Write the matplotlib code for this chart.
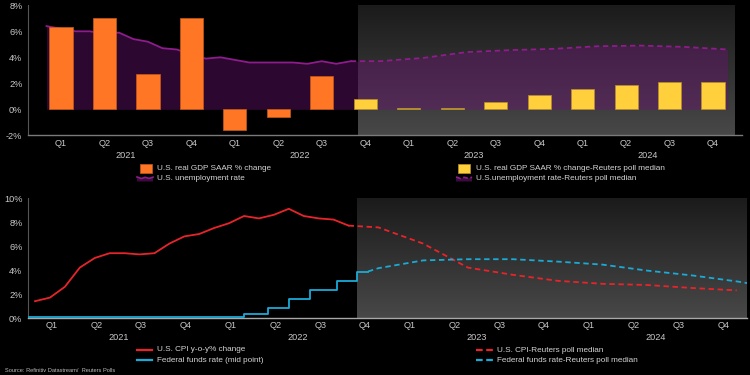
import numpy as np
import matplotlib
matplotlib.use('Agg')
import matplotlib.pyplot as plt
from matplotlib.patches import Rectangle, Polygon
from matplotlib.lines import Line2D
import matplotlib.transforms as mtrans
from matplotlib.colors import LinearSegmentedColormap

plt.rcParams['font.family'] = ['Liberation Sans', 'DejaVu Sans']

# ---------------- data ----------------
quarter_labels = ['Q1', 'Q2', 'Q3', 'Q4'] * 4
year_labels = ['2021', '2022', '2023', '2024']

gdp_actual = [6.3, 7.0, 2.7, 7.0, -1.6, -0.6, 2.6]
gdp_poll = [0.8, 0.1, 0.1, 0.6, 1.1, 1.6, 1.9, 2.1, 2.1]

unemp_actual = [6.4, 6.2, 6.0, 6.0, 5.8, 5.9, 5.4, 5.2, 4.7, 4.6, 4.2, 3.9,
                4.0, 3.8, 3.6, 3.6, 3.6, 3.6, 3.5, 3.7, 3.5, 3.7]
unemp_poll_month = [21, 23, 26, 29, 32, 35, 38, 41, 44, 47]
unemp_poll = [3.7, 3.7, 3.95, 4.4, 4.55, 4.65, 4.85, 4.9, 4.8, 4.6]

cpi_actual = [1.4, 1.7, 2.6, 4.2, 5.0, 5.4, 5.4, 5.3, 5.4, 6.2, 6.8, 7.0,
              7.5, 7.9, 8.5, 8.3, 8.6, 9.1, 8.5, 8.3, 8.2, 7.7]
cpi_poll_month = [21, 23, 26, 29, 32, 35, 38, 41, 44, 47]
cpi_poll = [7.7, 7.55, 6.2, 4.2, 3.6, 3.1, 2.85, 2.75, 2.5, 2.3]

fed_month = [-1.0, 14.0, 15.6, 17.0, 18.4, 20.2, 21.6, 22.3]
fed_actual = [0.125, 0.375, 0.875, 1.625, 2.375, 3.125, 3.875, 3.875]
fed_poll_month = [22.3, 23, 26, 29, 32, 35, 38, 41, 44, 47, 50]
fed_poll = [3.875, 4.15, 4.8, 4.9, 4.9, 4.7, 4.45, 3.95, 3.55, 3.05, 2.45]

# ---------------- style ----------------
ORANGE = '#ff7624'
ORANGE_E = '#c85a18'
YELLOW = '#ffd03c'
YELLOW_E = '#b8902a'
PURPLE = '#8e1c8c'
FILL = (0.42, 0.07, 0.45)
RED = '#e8242a'
CYAN = '#1aaad6'
TXT = '#d4d4d4'
TICK = '#c8c8c8'
TFS = 6.6
LFS = 5.85

W, H = 750, 375
fig = plt.figure(figsize=(7.5, 3.75), dpi=100, facecolor='black')

def fx(px):
    return px / W

def fy(py):
    return 1 - py / H

shade_cmap = LinearSegmentedColormap.from_list('sh', ['#1b1b1b', '#484848'])
grad = np.linspace(0, 1, 256).reshape(-1, 1)

def style_axes(ax, spine_col):
    ax.set_facecolor('black')
    for s in ['top', 'right']:
        ax.spines[s].set_visible(False)
    ax.spines['left'].set_color('#555555')
    ax.spines['bottom'].set_color(spine_col)
    ax.spines['left'].set_linewidth(0.8)
    ax.spines['bottom'].set_linewidth(1.0)
    ax.tick_params(axis='y', length=0, pad=4, labelsize=TFS, labelcolor=TICK)
    ax.tick_params(axis='x', length=0, labelbottom=False)

# ---------------- top panel ----------------
ax1 = fig.add_axes([fx(28), fy(135.3), fx(742) - fx(28), (135.3 - 5.3) / H])
style_axes(ax1, '#7a7a7a')
m1 = 14.49
x1_left = (28 - 46.5) / m1
x1_right = (742 - 46.5) / m1
ax1.set_xlim(x1_left, x1_right)
ax1.set_ylim(-2, 8)
ax1.set_yticks([-2, 0, 2, 4, 6, 8])
ax1.set_yticklabels(['-2%', '0%', '2%', '4%', '6%', '8%'])
ax1.imshow(grad, cmap=shade_cmap, aspect='auto', origin='upper',
           extent=[21.5, (735 - 46.5) / m1, -2, 8], zorder=0)

um_x = list(range(len(unemp_actual))) + unemp_poll_month[1:]
um_y = unemp_actual + unemp_poll[1:]
ax1.fill_between(um_x, 0, um_y, color=FILL, alpha=0.42, lw=0, zorder=1)
ax1.plot(range(len(unemp_actual)), unemp_actual, color=PURPLE, lw=1.3, zorder=2)
ax1.plot(unemp_poll_month, unemp_poll, color=PURPLE, lw=1.3, ls=(0, (3, 2)), zorder=2)

qx = [3 * i + 1 for i in range(16)]
ax1.bar(qx[:len(gdp_actual)], gdp_actual, width=1.6, color=ORANGE,
        edgecolor=ORANGE_E, linewidth=0.5, zorder=3)
ax1.bar(qx[len(gdp_actual):], gdp_poll, width=1.6, color=YELLOW,
        edgecolor=YELLOW_E, linewidth=0.5, zorder=3)

tr1 = mtrans.blended_transform_factory(ax1.transData, fig.transFigure)
for x, q in zip(qx, quarter_labels):
    ax1.text(x, fy(144), q, transform=tr1, ha='center', va='center',
             fontsize=TFS, color=TICK, clip_on=False)
for i, y in enumerate(year_labels):
    ax1.text(12 * i + 5.5, fy(155.5), y, transform=tr1, ha='center',
             va='center', fontsize=TFS, color=TICK, clip_on=False)

# ---------------- bottom panel ----------------
ax2 = fig.add_axes([fx(28), fy(318), fx(747) - fx(28), (318 - 198) / H])
style_axes(ax2, '#a8a8a8')
m2 = 14.93
x2_left = (28 - 35) / m2
x2_right = (747 - 35) / m2
ax2.set_xlim(x2_left, x2_right)
ax2.set_ylim(0, 10)
ax2.set_yticks([0, 2, 4, 6, 8, 10])
ax2.set_yticklabels(['0%', '2%', '4%', '6%', '8%', '10%'])
ax2.imshow(grad, cmap=shade_cmap, aspect='auto', origin='upper',
           extent=[21.6, x2_right, 0, 10], zorder=0)

ax2.plot(range(len(cpi_actual)), cpi_actual, color=RED, lw=1.3, zorder=3)
ax2.plot(cpi_poll_month, cpi_poll, color=RED, lw=1.3, ls=(0, (3, 2)), zorder=3)
ax2.step(fed_month, fed_actual, where='post', color=CYAN, lw=1.3, zorder=3)
ax2.plot(fed_poll_month, fed_poll, color=CYAN, lw=1.3, ls=(0, (3, 2)), zorder=3)

tr2 = mtrans.blended_transform_factory(ax2.transData, fig.transFigure)
qx2 = [3 * i + 1.1 for i in range(16)]
for x, q in zip(qx2, quarter_labels):
    ax2.text(x, fy(325), q, transform=tr2, ha='center', va='center',
             fontsize=TFS, color=TICK, clip_on=False)
for i, y in enumerate(year_labels):
    ax2.text(12 * i + 5.6, fy(338), y, transform=tr2, ha='center',
             va='center', fontsize=TFS, color=TICK, clip_on=False)

# ---------------- legends ----------------
def leg_text(px, py, s):
    fig.text(fx(px), fy(py), s, ha='left', va='center', fontsize=LFS, color=TXT)

def leg_rect(px0, px1, py, fc, ec):
    fig.add_artist(Rectangle((fx(px0), fy(py + 4.5)), fx(px1) - fx(px0), 9 / H,
                             transform=fig.transFigure, facecolor=fc,
                             edgecolor=ec, linewidth=0.5))

def leg_line(px0, px1, py, col, dashed):
    ls = (0, (3, 1.6)) if dashed else '-'
    fig.add_artist(Line2D([fx(px0), fx(px1)], [fy(py), fy(py)],
                          transform=fig.transFigure, color=col, lw=1.6, ls=ls))

def leg_wave(px0, px1, py, dashed):
    xs = np.linspace(px0, px1, 9)
    ys = py - 1.5 * np.array([1, 0.6, 0, 0.3, 0.8, 0.5, 0.1, 0.4, 0.9])
    pts = [(fx(a), fy(b)) for a, b in zip(xs, ys)]
    pts += [(fx(px1), fy(py + 3)), (fx(px0), fy(py + 3))]
    fig.add_artist(Polygon(pts, closed=True, transform=fig.transFigure,
                           facecolor='#3a0b3c', edgecolor='none'))
    fig.add_artist(Line2D([p[0] for p in pts[:9]], [p[1] for p in pts[:9]],
                          transform=fig.transFigure, color=PURPLE, lw=1.2,
                          ls=(0, (3, 1.5)) if dashed else '-'))

leg_rect(140, 152, 168.5, ORANGE, ORANGE_E)
leg_text(157, 168.5, 'U.S. real GDP SAAR % change')
leg_wave(137, 153, 178.5, False)
leg_text(157, 178.5, 'U.S. unemployment rate')

leg_rect(458, 470, 168.5, YELLOW, YELLOW_E)
leg_text(476, 168.5, 'U.S. real GDP SAAR % change-Reuters poll median')
leg_wave(456, 472, 178.5, True)
leg_text(476, 178.5, 'U.S.unemployment rate-Reuters poll median')

leg_line(137, 152, 349.5, RED, False)
leg_text(157, 349.5, 'U.S. CPI y-o-y% change')
leg_line(137, 152, 360, CYAN, False)
leg_text(157, 360, 'Federal funds rate (mid point)')

leg_line(476, 494, 350, RED, True)
leg_text(497, 350, 'U.S. CPI-Reuters poll median')
leg_line(476, 494, 360, CYAN, True)
leg_text(497, 360, 'Federal funds rate-Reuters poll median')

fig.text(fx(5), fy(370), 'Source: Refinitiv Datastream/  Reuters Polls',
         ha='left', va='center', fontsize=4.1, color='#bcbcbc')

fig.savefig('out.png', dpi=100, facecolor='black')
